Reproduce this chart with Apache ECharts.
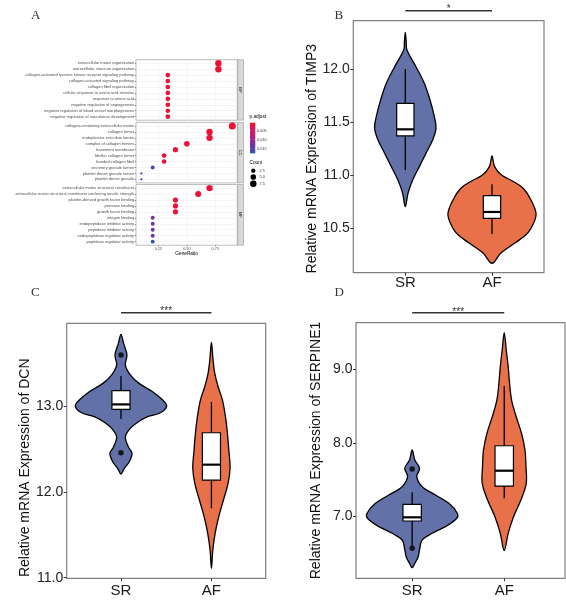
<!DOCTYPE html>
<html><head><meta charset="utf-8">
<script src="https://cdn.jsdelivr.net/npm/echarts@6/dist/echarts.min.js"></script>
<style>html,body{margin:0;padding:0;background:#fff}#c{width:566px;height:600px}</style>
</head><body><div id="c"></div>
<script>
// ---------- Panel A data (GO enrichment) ----------
const bpTerms = ['extracellular matrix organization','extracellular structure organization','collagen-activated tyrosine kinase receptor signaling pathway','collagen-activated signaling pathway','collagen fibril organization','cellular response to amino acid stimulus','response to amino acid','negative regulation of angiogenesis','negative regulation of blood vessel morphogenesis','negative regulation of vasculature development'];
const bpRatio = [0.778,0.778,0.333,0.333,0.333,0.333,0.333,0.333,0.333,0.333];
const bpCount = [7,7,3,3,3,3,3,3,3,3];
const bpPadj = [0.0006,0.0006,0.0009,0.0009,0.0009,0.0010,0.0010,0.0011,0.0011,0.0011];

const ccTerms = ['collagen-containing extracellular matrix','collagen trimer','endoplasmic reticulum lumen','complex of collagen trimers','basement membrane','fibrillar collagen trimer','banded collagen fibril','secretory granule lumen','platelet dense granule lumen','platelet dense granule'];
const ccRatio = [0.9,0.7,0.7,0.5,0.4,0.3,0.3,0.2,0.1,0.1];
const ccCount = [9,7,7,5,4,3,3,2,1,1];
const ccPadj = [0.0006,0.0007,0.0008,0.0008,0.0009,0.0009,0.0009,0.0165,0.0155,0.0155];

const mfTerms = ['extracellular matrix structural constituent','extracellular matrix structural constituent conferring tensile strength','platelet-derived growth factor binding','protease binding','growth factor binding','integrin binding','endopeptidase inhibitor activity','peptidase inhibitor activity','endopeptidase regulator activity','peptidase regulator activity'];
const mfRatio = [0.7,0.6,0.4,0.4,0.4,0.2,0.2,0.2,0.2,0.2];
const mfCount = [7,6,4,4,4,2,2,2,2,2];
const mfPadj = [0.0008,0.0010,0.0010,0.0010,0.0010,0.0115,0.0135,0.0135,0.0135,0.0170];

const facetLabels = ['BP','CC','MF'];
const ratioTicks = [0.25,0.50,0.75];
const ratioMinor = [0.125,0.375,0.625,0.875];
const padjTicks = [0.005,0.010,0.015];
const countTicks = [2.5,5.0,7.5];

// ---------- Violin data ----------
const groups = ['SR','AF'];
const timp3SRVal = [12.345,12.26,12.179,12.022,11.865,11.708,11.551,11.441,11.332,11.206,11.081,10.955,10.830,10.704];
const timp3SRWid = [0,0.010,0.019,0.123,0.219,0.285,0.335,0.354,0.315,0.238,0.162,0.085,0.031,0];
const timp3AFVal = [11.181,11.081,11.002,10.939,10.877,10.767,10.641,10.547,10.453,10.359,10.265,10.171];
const timp3AFWid = [0,0.030,0.110,0.250,0.360,0.450,0.508,0.480,0.410,0.260,0.100,0];
const timp3SRBox = [11.05,11.37,11.432,11.677,12.0];
const timp3AFBox = [10.447,10.594,10.654,10.808,10.914];
const timp3Ticks = [10.5,11.0,11.5,12.0];

const dcnSRVal = [13.835,13.730,13.594,13.478,13.361,13.264,13.167,13.070,13.000,12.922,12.876,12.817,12.740,12.643,12.526,12.449,12.351,12.274,12.208];
const dcnSRWid = [0,0.029,0.066,0.048,0.105,0.200,0.350,0.461,0.505,0.435,0.295,0.192,0.103,0.048,0.081,0.122,0.092,0.037,0];
const dcnAFVal = [13.742,13.536,13.381,13.225,13.070,12.876,12.682,12.487,12.274,12.099,11.905,11.711,11.517,11.322,11.109];
const dcnAFWid = [0,0.018,0.037,0.074,0.122,0.155,0.177,0.192,0.206,0.184,0.133,0.081,0.041,0.015,0];
const dcnSRBox = [12.849,12.961,13.019,13.179,13.35];
const dcnAFBox = [11.808,12.138,12.317,12.689,13.047];
const dcnSROutliers = [13.594,12.456];
const dcnTicks = [11.0,12.0,13.0];

const serpSRVal = [7.902,7.766,7.654,7.540,7.404,7.291,7.178,7.043,6.975,6.861,6.771,6.680,6.568,6.453,6.364,6.304];
const serpSRWid = [0,0.029,0.080,0.050,0.109,0.254,0.399,0.490,0.485,0.362,0.217,0.109,0.083,0.065,0.029,0];
const serpAFVal = [9.495,9.260,9.033,8.808,8.581,8.354,8.129,7.902,7.676,7.450,7.223,6.997,6.771,6.535];
const serpAFWid = [0,0.022,0.043,0.058,0.080,0.130,0.188,0.225,0.236,0.239,0.181,0.101,0.043,0];
const serpSRBox = [6.60,6.938,6.988,7.165,7.328];
const serpAFBox = [7.246,7.413,7.621,7.96,8.771];
const serpSROutliers = [7.644,6.568];
const serpTicks = [7.0,8.0,9.0];

const sigLabels = ['*','***','***'];
const sigLevels = [12.549,14.087,9.766];
const geneNames = ['TIMP3','DCN','SERPINE1'];

// ---------- styling / layout ----------
const padjMin = 0.0005, padjMax = 0.0176;
const padjPalette = ['#EE1133','#D4185E','#A82588','#6A35A5','#3052B5'];
const violinFill = ['#6271A8','#E8714A'];
const SANS = 'Liberation Sans', SERIF = 'Liberation Serif';

const aGrids = [
  {left:136, top:59.7, width:101.3, height:60.5},
  {left:136, top:122.4, width:101.3, height:60.5},
  {left:136, top:184.5, width:101.3, height:60.7}
];
const vGrids = [
  {left:353.3, top:20.7, width:190.7, height:252},
  {left:66.7, top:323.3, width:199, height:255},
  {left:356, top:322.7, width:209, height:255.6}
];
const vRanges = [[10.082,12.455],[10.993,13.964],[6.16,9.631]];
const vXRanges = [[0.4,2.6],[0.4,2.6],[0.39,2.66]];

function sizeOf(c){ return 1.36 + 0.94*(1 + 5*Math.sqrt(Math.max(c-1,0)/8)); }
function termData(ratio,count,padj){ return ratio.map((r,i)=>[r,i+1,padj[i],count[i]]); }

const grids = [], xAxes = [], yAxes = [], series = [];
aGrids.forEach(g=>grids.push(Object.assign({show:true, borderColor:'#a0a0a0', borderWidth:0.7, backgroundColor:'#fff', outerBoundsMode:'none', containLabel:false}, g)));
vGrids.forEach(g=>grids.push(Object.assign({show:true, borderColor:'#808080', borderWidth:1.2, outerBoundsMode:'none', containLabel:false}, g)));

const termSets = [[bpTerms,bpRatio,bpCount,bpPadj],[ccTerms,ccRatio,ccCount,ccPadj],[mfTerms,mfRatio,mfCount,mfPadj]];
termSets.forEach((set,gi)=>{
  const terms = set[0];
  const idx = terms.map((t,i)=>i+1);
  const last = gi===2;
  xAxes.push({type:'value', gridIndex:gi, min:0.053, max:0.944,
    axisLine:{show:false},
    axisTick:{show:last, length:1.2, customValues:ratioTicks, lineStyle:{color:'#333',width:0.5}},
    axisLabel:{show:last, customValues:ratioTicks, formatter:v=>v.toFixed(2), fontSize:3.8, color:'#4d4d4d', margin:1.4, fontFamily:SANS},
    splitLine:{show:true, lineStyle:{color:'#EBEBEB', width:0.5}},
    name: last ? 'GeneRatio' : '', nameLocation:'middle', nameGap:5.8,
    nameTextStyle:{fontSize:4.75, color:'#000', fontFamily:SANS}
  });
  yAxes.push({type:'value', gridIndex:gi, min:0.4, max:10.6, inverse:true,
    axisLine:{show:false},
    axisTick:{show:true, length:1.2, customValues:idx, lineStyle:{color:'#333',width:0.5}},
    axisLabel:{customValues:idx, formatter:v=>terms[Math.round(v)-1], fontSize:4, color:'#4d4d4d', margin:1.9, fontFamily:SANS},
    splitLine:{show:true, lineStyle:{color:'#EBEBEB', width:0.5}}
  });
  series.push({type:'scatter', xAxisIndex:gi, yAxisIndex:gi, data:termData(set[1],set[2],set[3]),
    symbolSize:v=>sizeOf(v[3]), itemStyle:{opacity:1}, z:3,
    markLine:{silent:true, symbol:'none', z:1, animation:false, label:{show:false}, emphasis:{disabled:true},
      lineStyle:{color:'#F3F3F3', width:0.4, type:'solid'}, data:ratioMinor.map(x=>({xAxis:x}))}
  });
});

const vSets = [
  {vals:[timp3SRVal,timp3AFVal], wids:[timp3SRWid,timp3AFWid], boxes:[timp3SRBox,timp3AFBox], outliers:[], ticks:timp3Ticks, nameGap:29.6, pad:24, lblMargin:2.5},
  {vals:[dcnSRVal,dcnAFVal], wids:[dcnSRWid,dcnAFWid], boxes:[dcnSRBox,dcnAFBox], outliers:dcnSROutliers, ticks:dcnTicks, nameGap:32.2, pad:34, lblMargin:5},
  {vals:[serpSRVal,serpAFVal], wids:[serpSRWid,serpAFWid], boxes:[serpSRBox,serpAFBox], outliers:serpSROutliers, ticks:serpTicks, nameGap:33.2, pad:0, lblMargin:5}
];

vSets.forEach((vs,k)=>{
  const gi = 3+k;
  xAxes.push({type:'value', gridIndex:gi, min:vXRanges[k][0], max:vXRanges[k][1],
    axisLine:{show:false},
    axisTick:{show:true, customValues:[1,2], length:3, lineStyle:{color:'#333',width:1}},
    axisLabel:{customValues:[1,2], formatter:v=>groups[Math.round(v)-1], fontSize:15, color:'#1a1a1a', margin:vs.lblMargin, fontFamily:SANS},
    splitLine:{show:false}
  });
  yAxes.push({type:'value', gridIndex:gi, min:vRanges[k][0], max:vRanges[k][1],
    axisLine:{show:false},
    axisTick:{show:true, customValues:vs.ticks, length:3, lineStyle:{color:'#333',width:1}},
    axisLabel:{customValues:vs.ticks, formatter:v=>v.toFixed(1), fontSize:14, color:'#222', margin:3.5, fontFamily:SANS},
    splitLine:{show:false},
    name:'Relative mRNA Expression of '+geneNames[k], nameLocation:'middle', nameRotate:90, nameGap:vs.nameGap,
    nameTextStyle:{fontSize:14, color:'#111', fontFamily:SANS, padding:[0,vs.pad,0,0]}
  });
  // violins
  series.push({type:'custom', xAxisIndex:gi, yAxisIndex:gi, z:2,
    data:[[1, vs.boxes[0][2]],[2, vs.boxes[1][2]]],
    renderItem:(params,api)=>{
      const i = params.dataIndex, cx = api.value(0);
      const v = vs.vals[i], w = vs.wids[i];
      const right = [], left = [];
      for(let j=0;j<v.length;j++){
        right.push(api.coord([cx + w[j], v[j]]));
        if(j>0 && j<v.length-1) left.push(api.coord([cx - w[j], v[j]]));
      }
      const pts = right.concat(left.reverse());
      return {type:'polygon', shape:{points:pts, smooth:0.35}, style:{fill:violinFill[i], stroke:'#000', lineWidth:1.3}};
    }
  });
  // boxes
  series.push({type:'custom', xAxisIndex:gi, yAxisIndex:gi, z:4,
    data:vs.boxes.map((b,i)=>[i+1].concat(b)),
    renderItem:(params,api)=>{
      const x = api.value(0), hw = 0.1;
      const lo=api.value(1), q1=api.value(2), md=api.value(3), q3=api.value(4), hi=api.value(5);
      const pHi = api.coord([x,hi]), pQ3 = api.coord([x,q3]), pQ1 = api.coord([x,q1]), pLo = api.coord([x,lo]);
      const tl = api.coord([x-hw,q3]), br = api.coord([x+hw,q1]);
      const ml = api.coord([x-hw,md]), mr = api.coord([x+hw,md]);
      return {type:'group', children:[
        {type:'line', shape:{x1:pHi[0],y1:pHi[1],x2:pQ3[0],y2:pQ3[1]}, style:{stroke:'#000',lineWidth:1.3}},
        {type:'line', shape:{x1:pQ1[0],y1:pQ1[1],x2:pLo[0],y2:pLo[1]}, style:{stroke:'#000',lineWidth:1.3}},
        {type:'rect', shape:{x:tl[0],y:tl[1],width:br[0]-tl[0],height:br[1]-tl[1]}, style:{fill:'#fff',stroke:'#000',lineWidth:1.2}},
        {type:'line', shape:{x1:ml[0],y1:ml[1],x2:mr[0],y2:mr[1]}, style:{stroke:'#000',lineWidth:2.2}}
      ]};
    }
  });
  // outliers
  if(vs.outliers.length){
    series.push({type:'scatter', xAxisIndex:gi, yAxisIndex:gi, z:5, symbolSize:5.5,
      itemStyle:{color:'#000'}, data:vs.outliers.map(o=>[1,o])});
  }
  // significance bar
  series.push({type:'custom', xAxisIndex:gi, yAxisIndex:gi, clip:false, z:6,
    data:[[1,2,sigLevels[k]]],
    renderItem:(params,api)=>{
      const a = api.coord([api.value(0),api.value(2)]), b = api.coord([api.value(1),api.value(2)]);
      return {type:'group', children:[
        {type:'line', shape:{x1:a[0],y1:a[1],x2:b[0],y2:b[1]}, style:{stroke:'#333',lineWidth:1.4}},
        {type:'text', style:{text:sigLabels[k], x:(a[0]+b[0])/2, y:a[1]+4, align:'center', verticalAlign:'bottom', fontSize:10, fill:'#333', fontFamily:SANS}}
      ]};
    }
  });
});

// ---------- legends for panel A (graphic) ----------
const graphic = [];
aGrids.forEach((g,i)=>{
  graphic.push({type:'rect', shape:{x:g.left+g.width+0.4, y:g.top, width:5.8, height:g.height}, style:{fill:'#D9D9D9', stroke:'#8a8a8a', lineWidth:0.5}});
  graphic.push({type:'text', x:g.left+g.width+3.3, y:g.top+g.height/2, rotation:-Math.PI/2,
    style:{text:facetLabels[i], fontSize:4, fill:'#1a1a1a', align:'center', verticalAlign:'middle', fontFamily:SANS}});
});
const cb = {x:250, y:122.7, w:5.3, h:30.6};
graphic.push({type:'text', x:249.5, y:117, style:{text:'p.adjust', fontSize:4.75, fill:'#000', align:'left', verticalAlign:'middle', fontFamily:SANS}});
graphic.push({type:'rect', shape:{x:cb.x, y:cb.y, width:cb.w, height:cb.h},
  style:{fill:new echarts.graphic.LinearGradient(0,0,0,1, padjPalette.map((c,i)=>({offset:i/(padjPalette.length-1), color:c})))}});
padjTicks.forEach(t=>{
  const y = cb.y + (t-padjMin)/(padjMax-padjMin)*cb.h;
  graphic.push({type:'line', shape:{x1:cb.x, y1:y, x2:cb.x+1, y2:y}, style:{stroke:'#fff', lineWidth:0.4}});
  graphic.push({type:'line', shape:{x1:cb.x+cb.w-1, y1:y, x2:cb.x+cb.w, y2:y}, style:{stroke:'#fff', lineWidth:0.4}});
  graphic.push({type:'text', x:cb.x+cb.w+1.8, y:y, style:{text:t.toFixed(3), fontSize:3.8, fill:'#333', align:'left', verticalAlign:'middle', fontFamily:SANS}});
});
graphic.push({type:'text', x:249.5, y:163, style:{text:'Count', fontSize:4.75, fill:'#000', align:'left', verticalAlign:'middle', fontFamily:SANS}});
const countY = [170.7,177,183.8];
countTicks.forEach((c,i)=>{
  graphic.push({type:'circle', shape:{cx:253.3, cy:countY[i], r:sizeOf(c)/2}, style:{fill:'#000'}});
  graphic.push({type:'text', x:259.5, y:countY[i], style:{text:c.toFixed(1), fontSize:3.8, fill:'#333', align:'left', verticalAlign:'middle', fontFamily:SANS}});
});

const letterStyle = {fontFamily:SERIF, fontSize:13, fontWeight:'normal', color:'#333'};
const option = {
  animation:false,
  backgroundColor:'#fff',
  title:[
    {text:'A', left:31, top:9, padding:0, textStyle:letterStyle},
    {text:'B', left:334.5, top:9, padding:0, textStyle:letterStyle},
    {text:'C', left:31, top:286, padding:0, textStyle:letterStyle},
    {text:'D', left:334.5, top:286, padding:0, textStyle:letterStyle}
  ],
  visualMap:{type:'continuous', show:false, min:padjMin, max:padjMax, dimension:2, seriesIndex:[0,1,2], inRange:{color:padjPalette}},
  grid:grids, xAxis:xAxes, yAxis:yAxes, series:series, graphic:graphic
};
const chart = echarts.init(document.getElementById('c'), null, {renderer:'canvas'});
chart.setOption(option);
</script></body></html>
